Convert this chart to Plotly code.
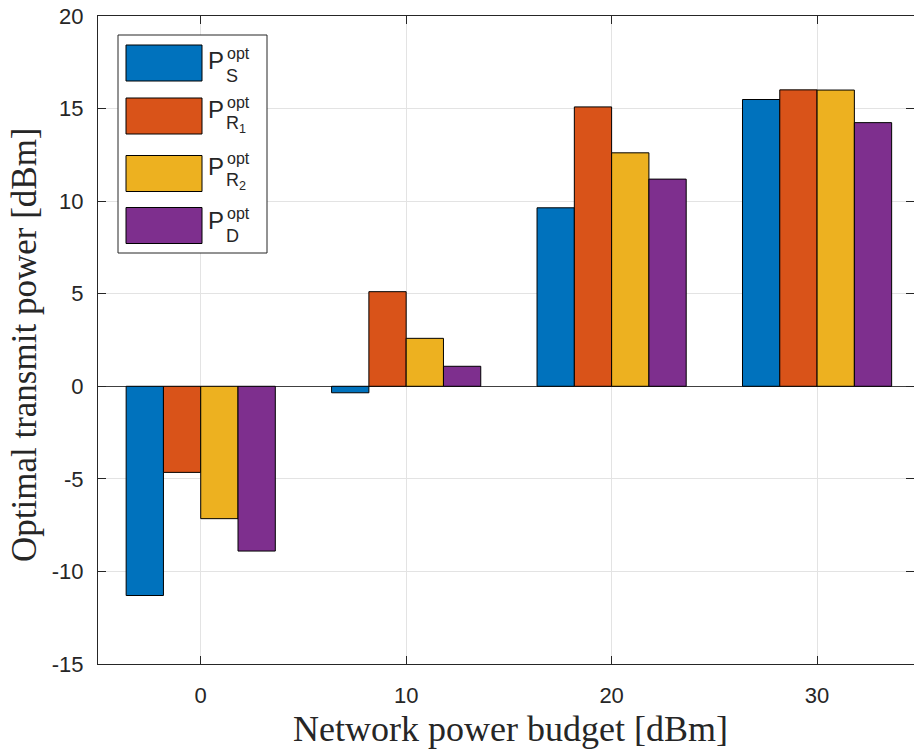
import plotly.graph_objects as go

budgets = [0, 10, 20, 30]
p_s = [-11.3, -0.35, 9.64, 15.49]
p_r1 = [-4.65, 5.11, 15.09, 16.01]
p_r2 = [-7.15, 2.59, 12.61, 16.0]
p_d = [-8.9, 1.08, 11.19, 14.24]

series_names = ["P_S", "P_R1", "P_R2", "P_D"]
series_colors = ["#0072BD", "#D95319", "#EDB120", "#7E2F8E"]
legend_subs = ["S", "R<sub>1</sub>", "R<sub>2</sub>", "D"]

y_tick_vals = [-15, -10, -5, 0, 5, 10, 15, 20]
y_tick_text = ["-15", "-10", "-5", "0", "5", "10", "15", "20"]
x_tick_vals = [0, 10, 20, 30]
x_tick_text = ["0", "10", "20", "30"]

W_FIG, H_FIG = 914, 751
L, R, T, B = 98, 0, 16, 87
PW = W_FIG - L - R
PH = H_FIG - T - B
BOTTOM = H_FIG - B


def px(x):
    return (x - L) / PW


def py(y):
    return (BOTTOM - y) / PH


fig = go.Figure()
for vals, name, col in zip([p_s, p_r1, p_r2, p_d], series_names, series_colors):
    fig.add_trace(go.Bar(x=budgets, y=vals, name=name, marker=dict(color=col, line=dict(color="#000000", width=1)),
                         showlegend=False))

axis_col = "#262626"
grid_col = "#e3e3e3"
tick_font = dict(family="Liberation Sans, Arial", size=22, color=axis_col)

fig.update_layout(
    width=W_FIG, height=H_FIG,
    margin=dict(l=L, r=R, t=T, b=B),
    paper_bgcolor="white", plot_bgcolor="white",
    hovermode=False,
    barmode="group", bargap=0.274, bargroupgap=0,
    xaxis=dict(range=[-5, -5 + (PW + 1) / 20.57], tickvals=x_tick_vals, ticktext=x_tick_text,
               showgrid=True, gridcolor=grid_col, gridwidth=1, zeroline=False,
               showline=True, linecolor=axis_col, linewidth=1, mirror="ticks",
               ticks="inside", ticklen=8, tickcolor=axis_col, tickfont=tick_font,
               ticklabelstandoff=12),
    yaxis=dict(range=[-15, 20], tickvals=y_tick_vals, ticktext=y_tick_text,
               showgrid=True, gridcolor=grid_col, gridwidth=1,
               zeroline=True, zerolinecolor="#404040", zerolinewidth=1,
               showline=True, linecolor=axis_col, linewidth=1, mirror="ticks",
               ticks="inside", ticklen=8, tickcolor=axis_col, tickfont=tick_font,
               ticklabelstandoff=9),
)

serif = "Liberation Serif, Times New Roman"
annotations = [
    dict(text="Network power budget [dBm]", x=px(510), y=py(729), xref="paper", yref="paper",
         showarrow=False, font=dict(family=serif, size=36, color=axis_col), xanchor="center", yanchor="middle"),
    dict(text="Optimal transmit power [dBm]", x=px(25), y=py(345), xref="paper", yref="paper",
         showarrow=False, textangle=-90, font=dict(family=serif, size=35, color=axis_col),
         xanchor="center", yanchor="middle"),
]

shapes = [
    dict(type="rect", xref="paper", yref="paper", x0=px(118), x1=px(267), y0=py(253), y1=py(35),
         fillcolor="white", line=dict(color=axis_col, width=1), layer="above"),
]
sw_centers = [63, 116, 173.5, 225.5]
p_centers = [61, 110, 166.5, 221]
for col, sc, pc, sub in zip(series_colors, sw_centers, p_centers, legend_subs):
    shapes.append(dict(type="rect", xref="paper", yref="paper", x0=px(126), x1=px(202),
                       y0=py(sc + 18), y1=py(sc - 18), fillcolor=col,
                       line=dict(color="#000000", width=1), layer="above"))
    lf = dict(family="Liberation Sans, Arial", color=axis_col)
    annotations.append(dict(text="P", x=px(206), y=py(pc), xref="paper", yref="paper", showarrow=False,
                            xanchor="left", yanchor="middle", font=dict(size=24, **lf)))
    annotations.append(dict(text="opt", x=px(225), y=py(pc - 8), xref="paper", yref="paper", showarrow=False,
                            xanchor="left", yanchor="middle", font=dict(size=16, **lf)))
    annotations.append(dict(text=sub, x=px(224), y=py(pc + 15), xref="paper", yref="paper", showarrow=False,
                            xanchor="left", yanchor="middle", font=dict(size=18, **lf)))

fig.update_layout(annotations=annotations, shapes=shapes)
fig.write_html("out.html", config={"displayModeBar": False, "staticPlot": True})

with open("out.html", "r", encoding="utf-8") as f:
    html = f.read()
html = html.replace("<head>", "<head><style>html,body{margin:0;padding:0;overflow:hidden;}</style>", 1)
with open("out.html", "w", encoding="utf-8") as f:
    f.write(html)
